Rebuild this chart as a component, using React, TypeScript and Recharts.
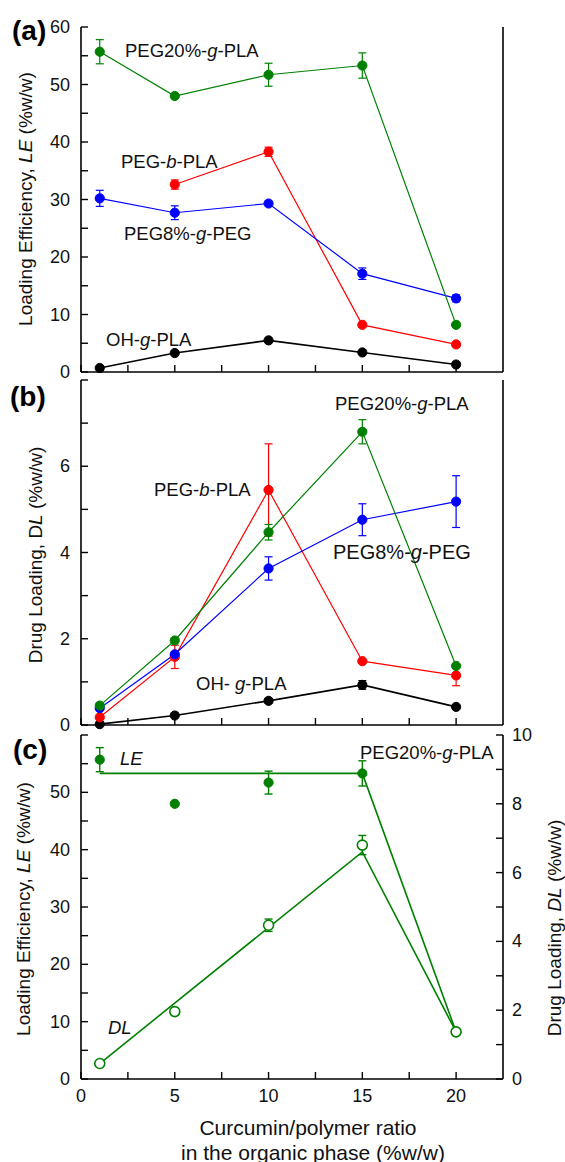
import React from "react";
import { ComposedChart, Line, XAxis, YAxis, ErrorBar } from "recharts";

const FONT = '"Liberation Sans", Arial, Helvetica, sans-serif';
const GREEN = "#008000";
const RED = "#ff0000";
const BLUE = "#0000ff";
const BLACK = "#000000";

// curcumin/polymer ratio (%w/w)
const ratio = [1, 5, 10, 15, 20];
const ratioFit = [1, 15, 20];

// (a) loading efficiency LE (%w/w)
const lePeg20 = [55.7, 48.0, 51.7, 53.3, 8.2];
const lePeg20Err = [2.1, 0, 2.0, 2.2, 0];
const ratioPegBle = [5, 10, 15, 20];
const lePegB = [32.6, 38.3, 8.2, 4.8];
const lePegBErr = [0.8, 0.8, 0, 0];
const lePeg8 = [30.2, 27.7, 29.3, 17.1, 12.8];
const lePeg8Err = [1.4, 1.2, 0, 1.0, 0.6];
const leOh = [0.7, 3.3, 5.5, 3.4, 1.3];

// (b) drug loading DL (%w/w)
const dlPeg20 = [0.45, 1.96, 4.47, 6.8, 1.37];
const dlPeg20Err = [0, 0, 0.18, 0.28, 0];
const dlPegB = [0.18, 1.58, 5.45, 1.48, 1.15];
const dlPegBErr = [0, 0.27, 1.07, 0, 0.24];
const dlPeg8 = [0.39, 1.64, 3.63, 4.76, 5.18];
const dlPeg8Err = [0, 0, 0.27, 0.37, 0.6];
const dlOh = [0.02, 0.22, 0.56, 0.93, 0.42];
const dlOhErr = [0, 0.03, 0.05, 0.1, 0.03];

// (c) guide lines for PEG20%-g-PLA
const leFit = [53.3, 53.3, 8.2];
const dlFit = [0.45, 6.6, 1.37];

// ticks
const xTicks = [0, 2.5, 5, 7.5, 10, 12.5, 15, 17.5, 20];
const xLabels = [0, 5, 10, 15, 20];
const leTicks = [0, 5, 10, 15, 20, 25, 30, 35, 40, 45, 50, 55, 60];
const leLabelsA = [0, 10, 20, 30, 40, 50, 60];
const leLabelsC = [0, 10, 20, 30, 40, 50];
const dlTicksB = [0, 1, 2, 3, 4, 5, 6, 7, 8];
const dlLabelsB = [0, 2, 4, 6];
const dlTicksC = [0, 1, 2, 3, 4, 5, 6, 7, 8, 9, 10];
const dlLabelsC = [0, 2, 4, 6, 8, 10];

const rows = (xs: number[], ys: number[], errs?: number[]) =>
  xs.map((x, i) => ({ x, y: ys[i], e: errs ? errs[i] : 0 }));

type Side = "left" | "right" | "top" | "bottom";

// inward tick marks, with a label only for the values listed
const tickMark = (side: Side, labels: number[] = []) => (p: any) => {
  const { x, y, payload } = p;
  const v = payload.value;
  const len = 7;
  const show = labels.includes(v);
  const txt = { fontSize: 18, fontFamily: FONT, fill: "#111" };
  if (side === "left")
    return (
      <g>
        <line x1={x} y1={y} x2={x + len} y2={y} stroke="#000" strokeWidth={1.4} />
        {show && (
          <text x={x - 11} y={y} textAnchor="end" dominantBaseline="central" {...txt}>
            {v}
          </text>
        )}
      </g>
    );
  if (side === "right")
    return (
      <g>
        <line x1={x} y1={y} x2={x - len} y2={y} stroke="#000" strokeWidth={1.4} />
        {show && (
          <text x={x + 9} y={y} textAnchor="start" dominantBaseline="central" {...txt}>
            {v}
          </text>
        )}
      </g>
    );
  if (side === "bottom")
    return (
      <g>
        <line x1={x} y1={y} x2={x} y2={y - len} stroke="#000" strokeWidth={1.4} />
        {show && (
          <text x={x} y={y + 17} textAnchor="middle" dominantBaseline="central" {...txt}>
            {v}
          </text>
        )}
      </g>
    );
  return (
    <g>
      <line x1={x} y1={y} x2={x} y2={y + len} stroke="#000" strokeWidth={1.4} />
    </g>
  );
};

const axisLine = { stroke: "#000", strokeWidth: 1.6 };

const Frame = (props: {
  yTicks: number[];
  yDomain: [number, number];
  leftLabels: number[];
  rightTicks?: number[];
  rightDomain?: [number, number];
  rightLabels?: number[];
  bottomLabels?: number[];
  bottomHeight: number;
}) => [
  <XAxis
    key="xb"
    xAxisId="b"
    dataKey="x"
    type="number"
    domain={[0, 22.5]}
    ticks={xTicks}
    interval={0}
    height={props.bottomHeight}
    tickSize={0}
    tickMargin={0}
    tickLine={false}
    axisLine={axisLine}
    tick={tickMark("bottom", props.bottomLabels || [])}
  />,
  <XAxis
    key="xt"
    xAxisId="t"
    orientation="top"
    dataKey="x"
    type="number"
    domain={[0, 22.5]}
    ticks={xTicks}
    interval={0}
    height={0}
    tickSize={0}
    tickMargin={0}
    tickLine={false}
    axisLine={axisLine}
    tick={tickMark("top")}
  />,
  <YAxis
    key="yl"
    yAxisId="l"
    type="number"
    domain={props.yDomain}
    ticks={props.yTicks}
    interval={0}
    width={81}
    tickSize={0}
    tickMargin={0}
    tickLine={false}
    axisLine={axisLine}
    tick={tickMark("left", props.leftLabels)}
  />,
  <YAxis
    key="yr"
    yAxisId="r"
    orientation="right"
    type="number"
    domain={props.rightDomain || props.yDomain}
    ticks={props.rightTicks || props.yTicks}
    interval={0}
    width={62}
    tickSize={0}
    tickMargin={0}
    tickLine={false}
    axisLine={axisLine}
    tick={tickMark("right", props.rightLabels || [])}
  />,
];

const series = (
  data: { x: number; y: number; e: number }[],
  color: string,
  width: number,
  yAxisId = "l"
) => (
  <Line
    key={color + yAxisId + data.length}
    data={data}
    dataKey="y"
    xAxisId="b"
    yAxisId={yAxisId}
    stroke={color}
    strokeWidth={width}
    dot={{ r: 4.6, fill: color, stroke: color, strokeWidth: 1 }}
    activeDot={false}
    isAnimationActive={false}
  >
    <ErrorBar dataKey="e" direction="y" width={4} stroke={color} strokeWidth={1.2} />
  </Line>
);

const It = ({ children }: { children: React.ReactNode }) => (
  <tspan fontStyle="italic">{children}</tspan>
);

const Ann = ({ x, y, size = 18.5, children }: any) => (
  <text x={x} y={y} fontSize={size} fontFamily={FONT} fill="#111" dominantBaseline="central">
    {children}
  </text>
);

const VTitle = ({ x, y, children }: any) => (
  <text
    x={x}
    y={y}
    fontSize={19}
    fontFamily={FONT}
    fill="#111"
    textAnchor="middle"
    dominantBaseline="central"
    transform={`rotate(-90 ${x} ${y})`}
  >
    {children}
  </text>
);

export default function App() {
  return (
    <div
      style={{
        position: "absolute",
        left: 0,
        top: 0,
        width: 565,
        height: 1162,
        background: "#fff",
        fontFamily: FONT,
        overflow: "hidden",
      }}
    >
      {/* (a) loading efficiency */}
      <div style={{ position: "absolute", left: 0, top: 0 }}>
        <ComposedChart width={565} height={392} margin={{ top: 27, right: 0, bottom: 0, left: 0 }}>
          {Frame({ yTicks: leTicks, yDomain: [0, 60], leftLabels: leLabelsA, bottomHeight: 20 })}
          {series(rows(ratio, leOh), BLACK, 1.6)}
          {series(rows(ratioPegBle, lePegB, lePegBErr), RED, 1.2)}
          {series(rows(ratio, lePeg8, lePeg8Err), BLUE, 1.2)}
          {series(rows(ratio, lePeg20, lePeg20Err), GREEN, 1.2)}
        </ComposedChart>
      </div>

      {/* (b) drug loading */}
      <div style={{ position: "absolute", left: 0, top: 376 }}>
        <ComposedChart width={565} height={366} margin={{ top: 4, right: 0, bottom: 0, left: 0 }}>
          {Frame({ yTicks: dlTicksB, yDomain: [0, 8], leftLabels: dlLabelsB, bottomHeight: 17 })}
          {series(rows(ratio, dlOh, dlOhErr), BLACK, 1.6)}
          {series(rows(ratio, dlPegB, dlPegBErr), RED, 1.2)}
          {series(rows(ratio, dlPeg8, dlPeg8Err), BLUE, 1.2)}
          {series(rows(ratio, dlPeg20, dlPeg20Err), GREEN, 1.2)}
        </ComposedChart>
      </div>

      {/* (c) PEG20%-g-PLA, LE and DL */}
      <div style={{ position: "absolute", left: 0, top: 716 }}>
        <ComposedChart width={565} height={446} margin={{ top: 19, right: 0, bottom: 0, left: 0 }}>
          {Frame({
            yTicks: leTicks,
            yDomain: [0, 60],
            leftLabels: leLabelsC,
            rightTicks: dlTicksC,
            rightDomain: [0, 10],
            rightLabels: dlLabelsC,
            bottomLabels: xLabels,
            bottomHeight: 83,
          })}
          <Line
            data={rows(ratioFit, leFit)}
            dataKey="y"
            xAxisId="b"
            yAxisId="l"
            stroke={GREEN}
            strokeWidth={1.6}
            dot={false}
            activeDot={false}
            isAnimationActive={false}
          />
          <Line
            data={rows(ratioFit, dlFit)}
            dataKey="y"
            xAxisId="b"
            yAxisId="r"
            stroke={GREEN}
            strokeWidth={1.6}
            dot={false}
            activeDot={false}
            isAnimationActive={false}
          />
          <Line
            data={rows(ratio, lePeg20, lePeg20Err)}
            dataKey="y"
            xAxisId="b"
            yAxisId="l"
            stroke="none"
            dot={{ r: 4.6, fill: GREEN, stroke: GREEN, strokeWidth: 1 }}
            activeDot={false}
            isAnimationActive={false}
          >
            <ErrorBar dataKey="e" direction="y" width={4} stroke={GREEN} strokeWidth={1.4} />
          </Line>
          <Line
            data={rows(ratio, dlPeg20, dlPeg20Err)}
            dataKey="y"
            xAxisId="b"
            yAxisId="r"
            stroke="none"
            dot={{ r: 5, fill: "#fff", stroke: GREEN, strokeWidth: 1.6 }}
            activeDot={false}
            isAnimationActive={false}
          >
            <ErrorBar dataKey="e" direction="y" width={4} stroke={GREEN} strokeWidth={1.4} />
          </Line>
        </ComposedChart>
      </div>

      {/* annotations */}
      <svg
        width={565}
        height={1162}
        style={{ position: "absolute", left: 0, top: 0, pointerEvents: "none" }}
      >
        <text x={12} y={30} fontSize={28} fontWeight="bold" fontFamily={FONT} dominantBaseline="central">
          (a)
        </text>
        <text x={10} y={396} fontSize={28} fontWeight="bold" fontFamily={FONT} dominantBaseline="central">
          (b)
        </text>
        <text x={13} y={749} fontSize={28} fontWeight="bold" fontFamily={FONT} dominantBaseline="central">
          (c)
        </text>

        <Ann x={125} y={50}>
          PEG20%-<It>g</It>-PLA
        </Ann>
        <Ann x={121} y={161}>
          PEG-<It>b</It>-PLA
        </Ann>
        <Ann x={124} y={233}>
          PEG8%-<It>g</It>-PEG
        </Ann>
        <Ann x={106} y={339}>
          OH-<It>g</It>-PLA
        </Ann>

        <Ann x={335} y={403}>
          PEG20%-<It>g</It>-PLA
        </Ann>
        <Ann x={154} y={489}>
          PEG-<It>b</It>-PLA
        </Ann>
        <Ann x={333} y={552} size={20}>
          PEG8%-<It>g</It>-PEG
        </Ann>
        <Ann x={196} y={683}>
          OH- <It>g</It>-PLA
        </Ann>

        <Ann x={120} y={758}>
          <It>LE</It>
        </Ann>
        <Ann x={360} y={752}>
          PEG20%-<It>g</It>-PLA
        </Ann>
        <Ann x={108} y={1027}>
          <It>DL</It>
        </Ann>

        <VTitle x={25} y={199}>
          Loading Efficiency, <It>LE</It> (%w/w)
        </VTitle>
        <VTitle x={35} y={555}>
          Drug Loading, D<It>L</It> (%w/w)
        </VTitle>
        <VTitle x={23} y={909}>
          Loading Efficiency, <It>LE</It> (%w/w)
        </VTitle>
        <VTitle x={554} y={928}>
          Drug Loading, <It>DL</It> (%w/w)
        </VTitle>

        <text x={308} y={1127} fontSize={21} fontFamily={FONT} fill="#111" textAnchor="middle" dominantBaseline="central">
          Curcumin/polymer ratio
        </text>
        <text x={313} y={1152} fontSize={21} fontFamily={FONT} fill="#111" textAnchor="middle" dominantBaseline="central">
          in the organic phase (%w/w)
        </text>
      </svg>
    </div>
  );
}
